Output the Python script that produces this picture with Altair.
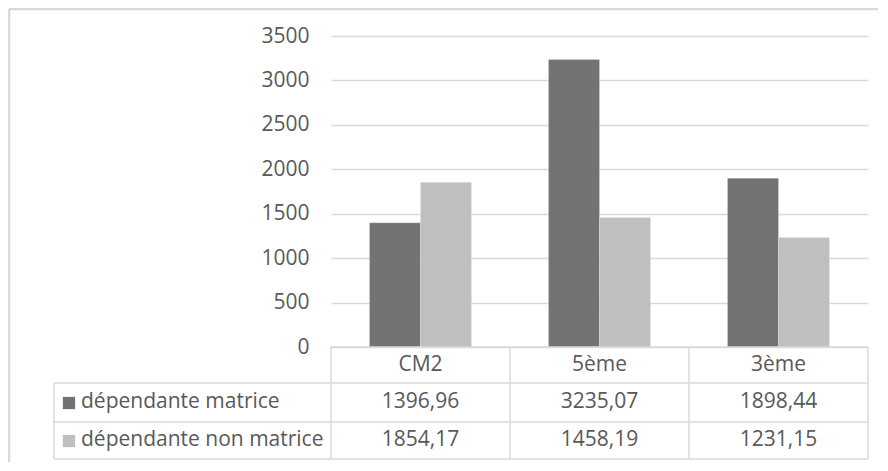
import altair as alt
import pandas as pd

categories = ["CM2", "5ème", "3ème"]
series = ["dépendante matrice", "dépendante non matrice"]
matrice = [1396.96, 3235.07, 1898.44]
non_matrice = [1854.17, 1458.19, 1231.15]
y_ticks = [0, 500, 1000, 1500, 2000, 2500, 3000, 3500]
colors = ["#737373", "#bfbfbf"]

rows = []
for s, vals in zip(series, [matrice, non_matrice]):
    for c, v in zip(categories, vals):
        rows.append({"cat": c, "series": s, "value": v,
                     "label": f"{v:.2f}".replace(".", ",")})
df = pd.DataFrame(rows)
cat_df = pd.DataFrame({"cat": categories})

W, H = 537, 311
FONT = "Open Sans"
FS = 21
TXT = "#595959"
GRID = "#d9d9d9"
ROW_Y = [366, 404]
HEADER_Y = 329
LEFT = -277

xscale = alt.Scale(domain=categories, paddingInner=0.43, paddingOuter=0.215)
xenc = alt.X("cat:N", scale=xscale, axis=None, sort=categories)

bars = alt.Chart(df).mark_bar(stroke="#ffffff", strokeWidth=0.5, strokeOpacity=0.4).encode(
    x=xenc,
    xOffset=alt.XOffset("series:N", sort=series,
                        scale=alt.Scale(domain=series, paddingInner=0, paddingOuter=0)),
    y=alt.Y("value:Q", scale=alt.Scale(domain=[0, 3500], nice=False),
            axis=alt.Axis(values=y_ticks, format="d", title=None, domain=False, ticks=False,
                          labelFontSize=FS, labelFont=FONT, labelColor=TXT,
                          labelPadding=22, grid=True, gridColor=GRID, gridWidth=1.5)),
    color=alt.Color("series:N", scale=alt.Scale(domain=series, range=colors), legend=None),
)

one = alt.Data(values=[{}])

def rule(x1, x2, y1, y2, w=1.5):
    return alt.Chart(one).mark_rule(color=GRID, strokeWidth=w).encode(
        x=alt.value(x1), x2=alt.value(x2), y=alt.value(y1), y2=alt.value(y2))

lines = [
    rule(0, W, H, H),
    rule(LEFT, W, 347, 347),
    rule(LEFT, W, 386, 386),
    rule(LEFT, W, 423, 423),
    rule(LEFT, LEFT, 347, 423),
    rule(0, 0, H, 423),
    rule(W / 3, W / 3, H, 423),
    rule(2 * W / 3, 2 * W / 3, H, 423),
    rule(W, W, H, 423),
    # outer chart border
    rule(-322, W + 12, -27, -27, 2.5),
    rule(-322, -322, -27, 440, 2.5),
]

header = alt.Chart(cat_df).mark_text(font=FONT, fontSize=FS, color=TXT,
                                     baseline="middle", align="center").encode(
    x=xenc, y=alt.value(HEADER_Y), text="cat:N")

layers = [bars] + lines + [header]
for i, s in enumerate(series):
    layers.append(
        alt.Chart(df).transform_filter(alt.datum.series == s)
        .mark_text(font=FONT, fontSize=FS, color=TXT, baseline="middle", align="center")
        .encode(x=xenc, y=alt.value(ROW_Y[i]), text="label:N"))
    layers.append(
        alt.Chart(one).mark_square(size=150, color=colors[i], opacity=1)
        .encode(x=alt.value(-262), y=alt.value(ROW_Y[i] + 1)))
    layers.append(
        alt.Chart(one).mark_text(font=FONT, fontSize=FS, color=TXT,
                                 baseline="middle", align="left")
        .encode(x=alt.value(-250), y=alt.value(ROW_Y[i]), text=alt.value(s)))

chart = alt.layer(*layers).properties(
    width=W, height=H,
    autosize=alt.AutoSizeParams(type="none"),
    padding={"left": 323, "top": 28, "right": 10, "bottom": 115},
    background="#ffffff",
).configure_view(stroke=None)

chart.save("out.html", embed_options={"renderer": "svg", "actions": False})
